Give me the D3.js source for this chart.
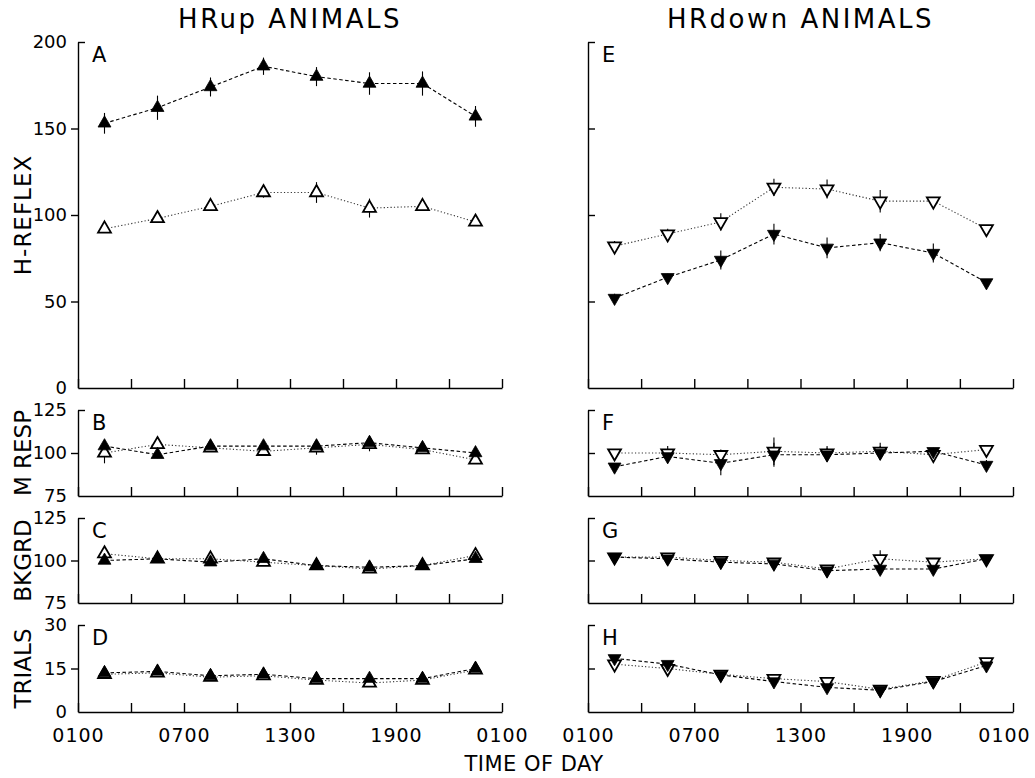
<!DOCTYPE html>
<html><head><meta charset="utf-8">
<script src="https://cdn.jsdelivr.net/npm/d3@7"></script>
<style>body{margin:0;background:#fff}</style>
</head><body><svg id="c" width="1035" height="778"></svg>
<script>
// ---- data ----
const times = [2.5, 5.5, 8.5, 11.5, 14.5, 17.5, 20.5, 23.5];
const axisHours = [1, 4, 7, 10, 13, 16, 19, 22, 25];
const hourLabels = {1: "0100", 7: "0700", 13: "1300", 19: "1900", 25: "0100"};
const colTitles = ["HRup ANIMALS", "HRdown ANIMALS"];
const rowLabels = ["H-REFLEX", "M RESP", "BKGRD", "TRIALS"];
const panelLetters = [["A", "B", "C", "D"], ["E", "F", "G", "H"]];
const rowDomains = [[0, 200], [75, 125], [75, 125], [0, 30]];
const rowTicks = [[0, 50, 100, 150, 200], [75, 100, 125], [75, 100, 125], [0, 15, 30]];

// HRup animals: open = before, filled = after
const upOpenH = [92, 98, 105, 113, 113, 104, 105, 96];
const upOpenHse = [2, 2, 2, 3, 6, 5.5, 2, 2];
const upFilledH = [153, 162, 174, 186, 180, 176, 176, 157];
const upFilledHse = [6, 7, 5.5, 5, 5.5, 6.5, 7, 6];
const upOpenM = [100, 105, 103, 101, 103, 105, 102, 96];
const upOpenMse = [6, 2, 2, 2, 4, 4, 2, 2];
const upFilledM = [104, 99, 104, 104, 104, 106, 103, 100];
const upFilledMse = [2, 2, 2, 2, 2, 4, 2, 2];
const upOpenB = [104, 101, 101, 99, 97, 95, 97, 103];
const upOpenBse = [1, 1, 1, 1, 1, 1, 1, 1];
const upFilledB = [100, 101, 99, 101, 97, 96, 97, 101];
const upFilledBse = [1, 1, 1, 1, 1, 1, 1, 1];
const upOpenT = [13, 13.5, 12, 12.5, 11, 10, 11, 14.5];
const upOpenTse = [0.5, 0.5, 0.5, 0.5, 0.5, 0.5, 0.5, 0.5];
const upFilledT = [13.5, 14, 12.5, 13, 11.5, 11.5, 11.5, 15];
const upFilledTse = [0.5, 0.5, 0.5, 0.5, 0.5, 0.5, 0.5, 0.5];

// HRdown animals
const downOpenH = [82, 89, 96, 116, 115, 108, 108, 92];
const downOpenHse = [3, 3, 5, 5, 5.5, 6.5, 2, 2];
const downFilledH = [52, 64, 74, 89, 81, 84, 78, 61];
const downFilledHse = [2.5, 2, 5.5, 6, 6, 5, 5.5, 2];
const downOpenM = [100, 100, 99, 101, 100, 101, 99, 102];
const downOpenMse = [2, 4, 3, 8, 4, 5, 3, 2];
const downFilledM = [92, 98, 94, 99, 99, 100, 101, 93];
const downFilledMse = [2, 3, 7, 7, 4, 4, 2, 3];
const downOpenB = [102, 102, 100, 99, 95, 101, 99, 101];
const downOpenBse = [1, 1, 1, 1, 1, 5, 1, 1];
const downFilledB = [102, 101, 99, 98, 94, 95, 95, 101];
const downFilledBse = [1, 1, 1, 1, 1, 1, 1, 1];
const downOpenT = [16.5, 15, 13, 11.5, 10.5, 7.8, 10.8, 17.3];
const downOpenTse = [0.5, 0.5, 0.5, 0.5, 0.5, 0.5, 0.5, 0.5];
const downFilledT = [18.5, 16.5, 12.8, 10.5, 8.5, 7.5, 10.5, 16];
const downFilledTse = [0.5, 0.5, 0.5, 0.5, 0.5, 0.5, 0.5, 0.5];

const series = [
  [[upOpenH, upOpenHse, upFilledH, upFilledHse], [upOpenM, upOpenMse, upFilledM, upFilledMse],
   [upOpenB, upOpenBse, upFilledB, upFilledBse], [upOpenT, upOpenTse, upFilledT, upFilledTse]],
  [[downOpenH, downOpenHse, downFilledH, downFilledHse], [downOpenM, downOpenMse, downFilledM, downFilledMse],
   [downOpenB, downOpenBse, downFilledB, downFilledBse], [downOpenT, downOpenTse, downFilledT, downFilledTse]]
];

// ---- layout ----
const FONT = "DejaVu Sans";
const cols = [{x0: 78, x1: 502}, {x0: 588, x1: 1013}];
const rows = [{top: 42, bottom: 388}, {top: 410, bottom: 496}, {top: 518, bottom: 603}, {top: 625, bottom: 712}];

const svg = d3.select("#c").style("font-family", FONT);

cols.forEach((c, ci) => {
  svg.append("text").attr("x", (c.x0 + c.x1) / 2).attr("y", 28)
    .attr("text-anchor", "middle").attr("font-size", 26).attr("letter-spacing", 2.5)
    .text(colTitles[ci]);

  rows.forEach((r, ri) => {
    const x = d3.scaleLinear().domain([1, 25]).range([c.x0, c.x1]);
    const dom = rowDomains[ri];
    const y = d3.scaleLinear().domain(dom).range([r.bottom, r.top]);
    const g = svg.append("g");

    // x axis
    const xa = d3.axisBottom(x).tickValues(axisHours).tickSize(-9).tickSizeOuter(0)
      .tickPadding(17).tickFormat(ri === 3 ? (d => hourLabels[d] || "") : () => "");
    const xg = g.append("g").attr("transform", `translate(0,${r.bottom})`).call(xa);
    xg.selectAll("text").attr("font-family", FONT).attr("font-size", 19).attr("letter-spacing", 1).attr("fill", "#000");
    if (ci === 1) xg.selectAll(".tick").filter(d => d === 25).select("text").attr("dx", -9);
    xg.selectAll("line,path").attr("stroke", "#000").attr("stroke-width", 1.4);

    // y axis
    let ya;
    if (ci === 0) {
      ya = d3.axisLeft(y).tickValues(rowTicks[ri]).tickSize(7).tickSizeOuter(0).tickPadding(4);
    } else {
      ya = d3.axisRight(y).tickValues(rowTicks[ri]).tickSize(7).tickSizeOuter(0).tickFormat(() => "");
    }
    const yg = g.append("g").attr("transform", `translate(${c.x0},0)`).call(ya);
    yg.selectAll(".tick").filter(d => d === dom[1]).select("line").attr("x2", 7);
    yg.selectAll(".tick").filter(d => d === dom[0]).select("line").remove();
    yg.selectAll("text").attr("font-family", FONT).attr("font-size", 18).attr("fill", "#000");
    yg.selectAll("line,path").attr("stroke", "#000").attr("stroke-width", 1.4);

    // panel letter
    g.append("text").attr("x", c.x0 + 14).attr("y", r.top + 20).attr("font-size", 21)
      .text(panelLetters[ci][ri]);

    // y label
    if (ci === 0) {
      svg.append("text").attr("transform", `translate(31,${(r.top + r.bottom) / 2}) rotate(-90)`)
        .attr("text-anchor", "middle").attr("font-size", 23)
        .attr("letter-spacing", ri === 0 ? 1 : 0).text(rowLabels[ri]);
    }

    const [ov, ose, fv, fse] = series[ci][ri];
    const line = d3.line().x((d, i) => x(times[i])).y(d => y(d));
    g.append("path").datum(ov).attr("d", line).attr("fill", "none")
      .attr("stroke", "#333").attr("stroke-width", 1.1).attr("stroke-dasharray", "1.2,2.2");
    g.append("path").datum(fv).attr("d", line).attr("fill", "none")
      .attr("stroke", "#000").attr("stroke-width", 1.1).attr("stroke-dasharray", "3.5,2.5");

    // error bars
    [[ov, ose], [fv, fse]].forEach(([v, se]) => {
      g.append("g").selectAll("line").data(v).join("line")
        .attr("x1", (d, i) => x(times[i])).attr("x2", (d, i) => x(times[i]))
        .attr("y1", (d, i) => y(d - se[i])).attr("y2", (d, i) => y(d + se[i]))
        .attr("stroke", "#000").attr("stroke-width", 1.1);
    });

    const sym = d3.symbol(d3.symbolTriangle, 72);
    const rot = ci === 0 ? 0 : 180;
    g.append("g").selectAll("path").data(ov).join("path")
      .attr("d", sym).attr("transform", (d, i) => `translate(${x(times[i])},${y(d)}) rotate(${rot})`)
      .attr("fill", "#fff").attr("stroke", "#000").attr("stroke-width", 1.8);
    g.append("g").selectAll("path").data(fv).join("path")
      .attr("d", sym).attr("transform", (d, i) => `translate(${x(times[i])},${y(d)}) rotate(${rot})`)
      .attr("fill", "#000").attr("stroke", "#000").attr("stroke-width", 0.8);
  });
});

svg.append("text").attr("x", 534).attr("y", 771).attr("text-anchor", "middle")
  .attr("font-size", 21).attr("letter-spacing", 0.5).text("TIME OF DAY");
</script></body></html>
